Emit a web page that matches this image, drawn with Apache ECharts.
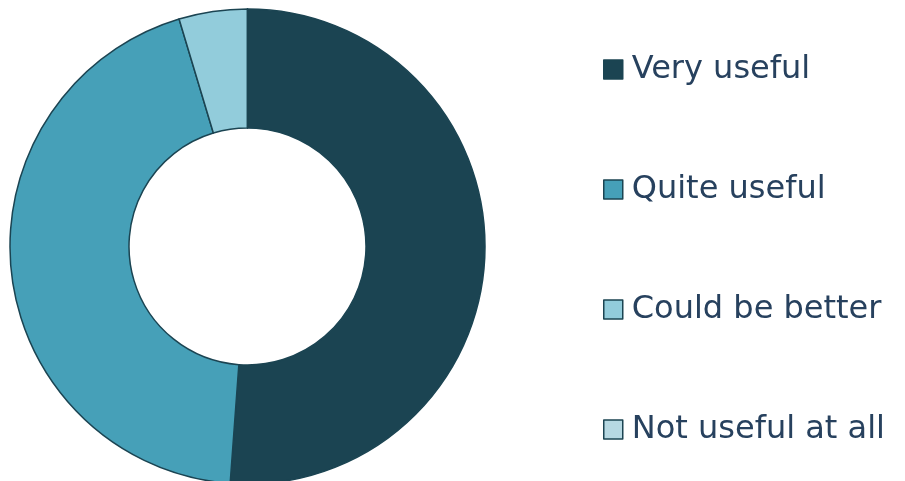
<!DOCTYPE html>
<html><head><meta charset="utf-8">
<script src="https://cdn.jsdelivr.net/npm/echarts@6/dist/echarts.min.js"></script>
<style>html,body{margin:0;padding:0;background:#fff}#c{width:905px;height:481px}</style>
</head><body><div id="c"></div>
<script>
const categories = ["Very useful", "Quite useful", "Could be better", "Not useful at all"];
const values = [22, 19, 2, 0];
const colors = ["#1b4452", "#46a0b8", "#92ccdb", "#b6d8e2"];

const chart = echarts.init(document.getElementById('c'));
chart.setOption({
  animation: false,
  legend: {
    orient: 'vertical',
    left: 598,
    top: 44.5,
    itemWidth: 19,
    itemHeight: 19,
    itemGap: 80,
    icon: 'rect',
    data: categories,
    itemStyle: { borderColor: '#1b4452', borderWidth: 1.5 },
    textStyle: { fontFamily: 'DejaVu Sans', fontSize: 32, color: '#27415e', lineHeight: 40, padding: [0, 0, 0, 4] }
  },
  series: [{
    type: 'pie',
    center: [247.5, 246.5],
    radius: [118.5, 237.5],
    startAngle: 90,
    clockwise: true,
    label: { show: false },
    labelLine: { show: false },
    itemStyle: { borderColor: '#1b4452', borderWidth: 1.5 },
    emphasis: { disabled: true },
    data: categories.map((n, i) => ({ name: n, value: values[i], itemStyle: { color: colors[i] } }))
  }]
});
</script></body></html>
